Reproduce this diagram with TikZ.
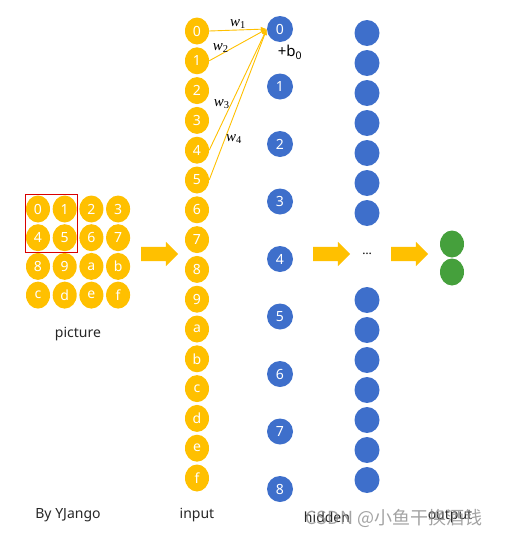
\documentclass[tikz,border=0pt]{standalone}
\usepackage{fontspec}
\setmainfont{Noto Sans}
\newfontfamily\cjkfont{Noto Sans CJK SC}
\newfontfamily\wfont{Liberation Serif}
\usetikzlibrary{shapes.geometric,shapes.arrows,arrows.meta,positioning,fit}
\definecolor{unityellow}{HTML}{FFC000}
\definecolor{unitblue}{HTML}{3E6FCB}
\definecolor{unitgreen}{HTML}{45A03C}

\begin{document}
\begin{tikzpicture}[
    x=1pt, y=-1pt,
    inunit/.style={ellipse, fill=unityellow, text=white, inner sep=0pt, minimum width=24pt, minimum height=27pt, font=\fontsize{14}{16}\selectfont},
    hidunit/.style={circle, fill=unitblue, text=white, inner sep=0pt, minimum size=26pt, font=\fontsize{14}{16}\selectfont},
    dotunit/.style={ellipse, fill=unitblue, inner sep=0pt, minimum width=25pt, minimum height=26pt},
    outunit/.style={ellipse, fill=unitgreen, inner sep=0pt, minimum width=24pt, minimum height=27pt},
    flowarrow/.style={single arrow, fill=unityellow, inner xsep=0pt, inner ysep=7pt, minimum width=24pt, minimum height=37pt, single arrow head extend=5pt},
    weight/.style={-{Latex[length=6pt,width=5pt]}, draw=unityellow, line width=0.9pt},
    wlabel/.style={font=\wfont\fontsize{15}{17}\selectfont, inner sep=1pt},
    caption/.style={font=\fontsize{14}{16}\selectfont, text=black!85}
]
\useasboundingbox (0,0) rectangle (505,536);

% Picture grid
\foreach \d [count=\i from 0] in {0,1,2,3,4,5,6,7,8,9,a,b,c,d,e,f} {
  \pgfmathtruncatemacro{\row}{div(\i,4)}
  \pgfmathtruncatemacro{\col}{mod(\i,4)}
  \node[inunit] (pic-\d) at (38+26.7*\col, 209+28.7*\row) {\d};
}
\node[draw=red!85!black, line width=0.8pt, fit=(pic-0)(pic-5), inner sep=0.5pt] (window) {};
\node[caption] (piclabel) at (78,334) {picture};

% Input layer
\foreach \d [count=\i from 0] in {0,1,2,3,4,5,6,7,8,9,a,b,c,d,e,f}
  \node[inunit] (in-\d) at (197, 31+29.8*\i) {\d};

% Hidden layer 1
\foreach \i in {0,...,8}
  \node[hidunit] (h-\i) at (280, 29+57.5*\i) {\i};
\node[anchor=north, font=\fontsize{15}{17}\selectfont, inner sep=1pt] (bias) at ([xshift=10pt,yshift=-2pt]h-0.south) {+b\textsubscript{0}};

% Hidden layer 2
\foreach \i in {0,...,6} {
  \node[dotunit] (ha-\i) at (367, 33+30*\i) {};
  \node[dotunit] (hb-\i) at (367, 300+30*\i) {};
}
\node[font=\fontsize{12}{14}\selectfont] (hdots) at (367,254) {\dots};

% Output layer
\node[outunit] (out-0) at (452,244) {};
\node[outunit] (out-1) at (452,272) {};

% Weights
\draw[weight] (in-0.east) -- node[wlabel, above] {{\itshape w}\textsubscript{1}} (h-0.west);
\draw[weight] (in-1.east) -- node[wlabel, pos=0.2, above] {{\itshape w}\textsubscript{2}} (h-0.west);
\draw[weight] (in-4.east) -- node[wlabel, pos=0.38, left] {{\itshape w}\textsubscript{3}} (h-0.west);
\draw[weight] (in-5.east) -- node[wlabel, pos=0.27, right] {{\itshape w}\textsubscript{4}} (h-0.west);

% Flow arrows
\node[flowarrow] (flow-1) at (156,254) {};
\node[flowarrow] (flow-2) at (328,254) {};
\node[flowarrow] (flow-3) at (406,254) {};

% Captions
\node[caption] (author) at (68,515) {By YJango};
\node[caption] (inlabel) at (197,515) {input};
\node[caption] (hidlabel) at (327,517) {hidden};
\node[caption] (outlabel) at (450,517) {output};
\node[font=\cjkfont\fontsize{18}{20}\selectfont, text=black!45, opacity=0.8] (mark) at (394,518) {CSDN @小鱼干换酒钱};

\end{tikzpicture}
\end{document}
